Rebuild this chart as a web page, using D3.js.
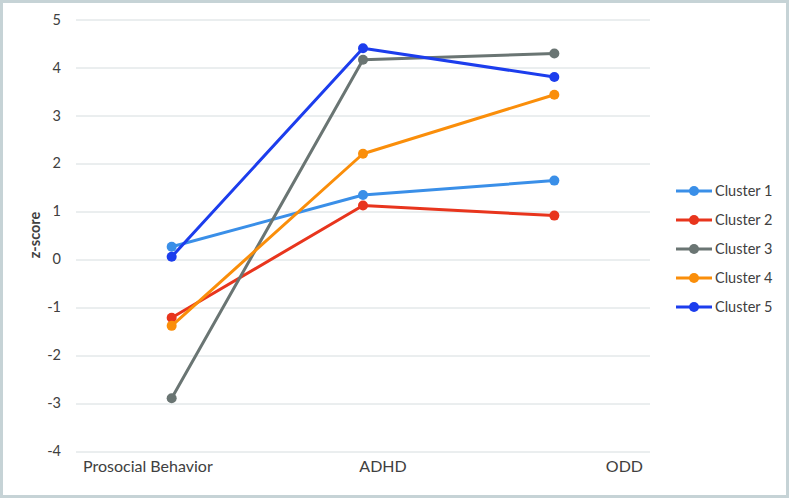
<!DOCTYPE html>
<html>
<head>
<meta charset="utf-8">
<script src="https://cdn.jsdelivr.net/npm/d3@7/dist/d3.min.js"></script>
<style>
  body { margin: 0; background: #fff; }
  svg { display: block; font-family: Lato, "Open Sans", sans-serif; }
</style>
</head>
<body>
<div id="chart"></div>
<script>
// categories on the x axis
var categories = ["Prosocial Behavior", "ADHD", "ODD"];
// series names and z-score values
var seriesNames = ["Cluster 1", "Cluster 2", "Cluster 3", "Cluster 4", "Cluster 5"];
var cluster1 = [0.26, 1.34, 1.64];
var cluster2 = [-1.22, 1.12, 0.91];
var cluster3 = [-2.90, 4.16, 4.29];
var cluster4 = [-1.39, 2.20, 3.43];
var cluster5 = [0.05, 4.40, 3.80];
var yTicks = [-4, -3, -2, -1, 0, 1, 2, 3, 4, 5];
var colors = ["#3a8fe8", "#e8351d", "#6a7573", "#fa8e0a", "#1c3ded"];

var seriesValues = [cluster1, cluster2, cluster3, cluster4, cluster5];
var W = 789, H = 498;
var margin = { top: 19.5, left: 76, right: 139, bottom: 47 };
var width = W - margin.left - margin.right;
var height = H - margin.top - margin.bottom;
var fs = "14.5px";

var svg = d3.select("#chart").append("svg")
  .attr("width", W)
  .attr("height", H);

// outer border
svg.append("rect")
  .attr("x", 1.5).attr("y", 1.5)
  .attr("width", W - 3).attr("height", H - 3)
  .attr("fill", "#fff")
  .attr("stroke", "#c6d3d6")
  .attr("stroke-width", 3);

var g = svg.append("g")
  .attr("transform", "translate(" + margin.left + "," + margin.top + ")");

var x = d3.scaleBand().domain(categories).range([0, width]);
var y = d3.scaleLinear().domain([-4, 5]).range([height, 0]);

// grid lines
g.append("g")
  .selectAll("line")
  .data(yTicks)
  .enter().append("line")
  .attr("x1", 0).attr("x2", width)
  .attr("y1", function(d) { return Math.round(y(d)) + 0.5; })
  .attr("y2", function(d) { return Math.round(y(d)) + 0.5; })
  .attr("stroke", "#d6dddf")
  .attr("stroke-width", 1);

// y axis labels (plain hyphen minus, like the original)
var yAxis = d3.axisLeft(y).tickValues(yTicks).tickSize(0).tickPadding(15)
  .tickFormat(function(d) { return String(d); });
var ya = g.append("g").call(yAxis);
ya.select(".domain").remove();
ya.selectAll("text")
  .attr("fill", "#404040")
  .style("font-size", fs)
  .style("font-family", "Lato, sans-serif");

// y axis title
svg.append("text")
  .attr("transform", "translate(40,235) rotate(-90)")
  .attr("text-anchor", "middle")
  .attr("fill", "#404040")
  .style("font-size", fs)
  .style("font-weight", "bold")
  .text("z-score");

// category labels (spread like the original)
g.selectAll(".cat")
  .data(categories)
  .enter().append("text")
  .attr("class", "cat")
  .attr("x", function(d, i) {
    if (i === 0) return x(d) + 7;
    if (i === categories.length - 1) return x(d) + x.bandwidth() - 7;
    return x(d) + x.bandwidth() / 2 + 20;
  })
  .attr("y", height + 21)
  .attr("text-anchor", function(d, i) {
    return i === 0 ? "start" : (i === categories.length - 1 ? "end" : "middle");
  })
  .attr("fill", "#404040")
  .style("font-size", "16px")
  .text(function(d) { return d; });

// lines and markers
var line = d3.line()
  .x(function(d, i) { return x(categories[i]) + x.bandwidth() / 2; })
  .y(function(d) { return y(d); });

seriesValues.forEach(function(vals, s) {
  g.append("path")
    .datum(vals)
    .attr("d", line)
    .attr("fill", "none")
    .attr("stroke", colors[s])
    .attr("stroke-width", 3)
    .attr("stroke-linejoin", "round");
  g.selectAll(".pt" + s)
    .data(vals)
    .enter().append("circle")
    .attr("class", "pt" + s)
    .attr("cx", function(d, i) { return x(categories[i]) + x.bandwidth() / 2; })
    .attr("cy", function(d) { return y(d); })
    .attr("r", 5)
    .attr("fill", colors[s]);
});

// legend
var legend = svg.append("g").attr("transform", "translate(676,191)");
var item = legend.selectAll(".item")
  .data(seriesNames)
  .enter().append("g")
  .attr("class", "item")
  .attr("transform", function(d, i) { return "translate(0," + (i * 29) + ")"; });
item.append("line")
  .attr("x1", 0).attr("x2", 36)
  .attr("stroke", function(d, i) { return colors[i]; })
  .attr("stroke-width", 3);
item.append("circle")
  .attr("cx", 18).attr("r", 5)
  .attr("fill", function(d, i) { return colors[i]; });
item.append("text")
  .attr("x", 39).attr("dy", "0.35em")
  .attr("fill", "#404040")
  .style("font-size", fs)
  .text(function(d) { return d; });
</script>
</body>
</html>
